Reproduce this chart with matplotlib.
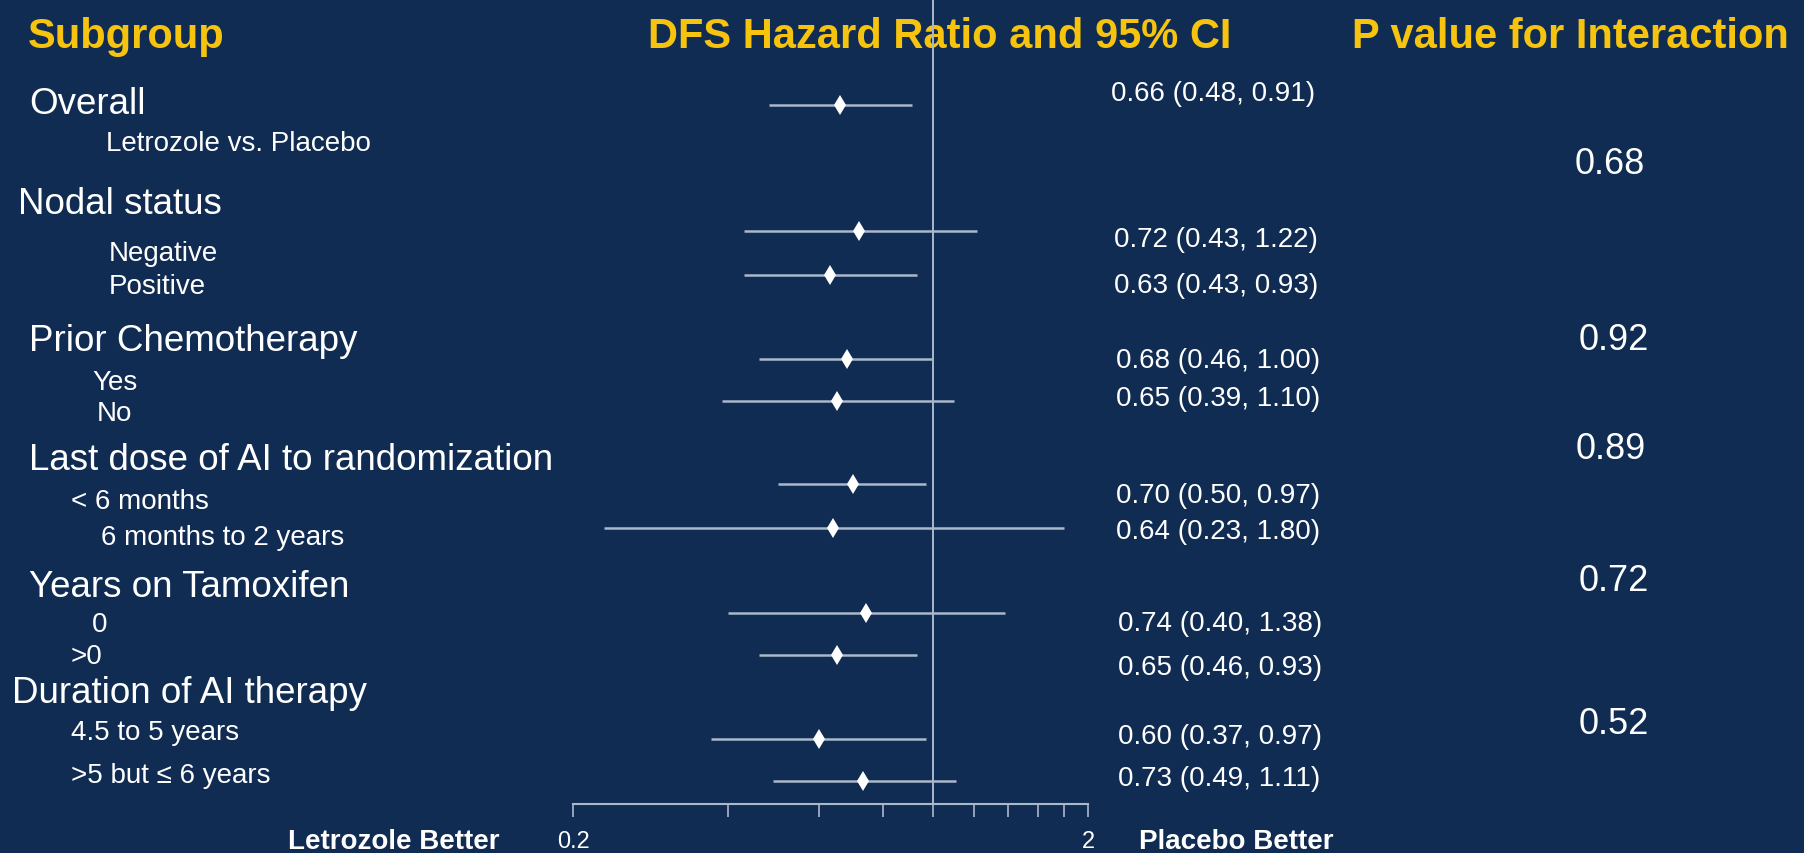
import matplotlib
matplotlib.use("Agg")
import matplotlib.pyplot as plt

plt.rcParams['font.family'] = ['Liberation Sans', 'DejaVu Sans']

# Data
subgroups = ["Overall", "Nodal status", "Prior Chemotherapy",
             "Last dose of AI to randomization", "Years on Tamoxifen",
             "Duration of AI therapy"]
levels = ["Letrozole vs. Placebo", "Negative", "Positive", "Yes", "No",
          "< 6 months", "6 months to 2 years", "0", ">0",
          "4.5 to 5 years", ">5 but \u2264 6 years"]
hr = [0.66, 0.72, 0.63, 0.68, 0.65, 0.70, 0.64, 0.74, 0.65, 0.60, 0.73]
ci_low = [0.48, 0.43, 0.43, 0.46, 0.39, 0.50, 0.23, 0.40, 0.46, 0.37, 0.49]
ci_high = [0.91, 1.22, 0.93, 1.00, 1.10, 0.97, 1.80, 1.38, 0.93, 0.97, 1.11]
p_interaction = ["0.68", "0.92", "0.89", "0.72", "0.52"]
ticks = [0.2, 0.4, 0.6, 0.8, 1.0, 1.2, 1.4, 1.6, 1.8, 2.0]

# Layout (pixel rows, top = 0)
W, H = 1804, 854
row_y = [106, 232, 276, 360, 402, 485, 529, 614, 656, 740, 782]
est_pos = [(1111, 90), (1114, 236), (1114, 282), (1116, 357), (1116, 395),
           (1116, 492), (1116, 528), (1118, 620), (1118, 664), (1118, 733),
           (1118, 775)]
group_pos = [(29, 101), (18, 201), (29, 338), (29, 457), (29, 584), (12, 690)]
level_pos = [(106, 140), (109, 250), (109, 283), (92, 379), (97, 410),
             (71, 498), (101, 534), (92, 621), (71, 653), (71, 729), (71, 772)]
p_pos = [(1575, 161), (1579, 337), (1576, 446), (1579, 578), (1579, 721)]
dy = 4  # baseline nudge

bg = "#112c52"
yellow = "#f6c40f"
line_c = "#aab8cc"
axis_y = 805
x_lo_px, x_hi_px = 573, 1088

fig = plt.figure(figsize=(W / 100, H / 100), dpi=100, facecolor=bg)

# text layer in pixel coordinates
tx = fig.add_axes([0, 0, 1, 1])
tx.set_xlim(0, W)
tx.set_ylim(H, 0)
tx.axis('off')

# forest plot
ax = fig.add_axes([x_lo_px / W, 1 - axis_y / H, (x_hi_px - x_lo_px) / W, axis_y / H])
ax.set_facecolor('none')
ax.set_xscale('log')
ax.set_xlim(0.2, 2)
ax.set_ylim(axis_y, 0)
for s in ['top', 'left', 'right']:
    ax.spines[s].set_visible(False)
ax.spines['bottom'].set_color(line_c)
ax.spines['bottom'].set_linewidth(1.5)
ax.minorticks_off()
ax.set_xticks(ticks)
ax.set_xticklabels(['0.2'] + [''] * 8 + ['2'])
ax.tick_params(axis='x', colors=line_c, length=9, width=1.2, pad=10,
               labelsize=17, labelcolor='white')
ax.minorticks_off()
ax.set_yticks([])

ax.axvline(1.0, color=line_c, lw=1.4, zorder=1)
ax.hlines(row_y, ci_low, ci_high, color=line_c, lw=1.8, zorder=2)
ax.plot(hr, row_y, linestyle='none', marker='d', ms=10, color='white',
        markeredgewidth=0, zorder=3)

# headers
hdr = dict(color=yellow, fontsize=30, fontweight='bold', va='center', ha='left')
tx.text(28, 37, "Subgroup", **hdr)
tx.text(648, 37, "DFS Hazard Ratio and 95% CI", **hdr)
tx.text(1352, 37, "P value for Interaction", **hdr)

for name, (x, y) in zip(subgroups, group_pos):
    tx.text(x, y + dy, name, color='white', fontsize=26.5, va='center', ha='left')
for name, (x, y) in zip(levels, level_pos):
    tx.text(x, y + dy, name, color='white', fontsize=20, va='center', ha='left')
for h, lo, hi, (x, y) in zip(hr, ci_low, ci_high, est_pos):
    tx.text(x, y + dy, f"{h:.2f} ({lo:.2f}, {hi:.2f})", color='white', fontsize=20,
            va='center', ha='left')
for p, (x, y) in zip(p_interaction, p_pos):
    tx.text(x, y + dy, p, color='white', fontsize=26, va='center', ha='left')

tx.text(288, 842, "Letrozole Better", color='white', fontsize=20,
        fontweight='bold', va='center', ha='left')
tx.text(1139, 842, "Placebo Better", color='white', fontsize=20,
        fontweight='bold', va='center', ha='left')

fig.savefig("out.png", dpi=100, facecolor=bg)
